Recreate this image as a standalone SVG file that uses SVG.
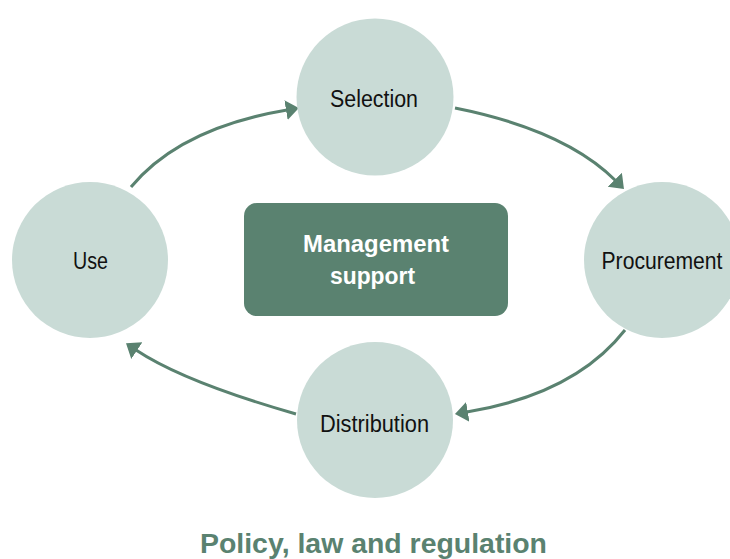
<svg xmlns="http://www.w3.org/2000/svg" width="730" height="559" viewBox="0 0 730 559">
<style>
.c{fill:#c9dbd6}
.lbl{font-family:"Liberation Sans",Arial,sans-serif;font-size:23px;fill:#111;text-anchor:middle}
.mg{font-family:"Liberation Sans",Arial,sans-serif;font-size:23px;font-weight:bold;fill:#fff;text-anchor:middle}
.ttl{font-family:"Liberation Sans",Arial,sans-serif;font-size:27px;font-weight:bold;fill:#5a8270;text-anchor:middle}
.a{fill:none;stroke:#5a8270;stroke-width:3}
</style>
<defs>
<marker id="ah" markerUnits="userSpaceOnUse" markerWidth="14" markerHeight="22" viewBox="0 -11 14 22" refX="1" refY="0" orient="auto">
<path d="M0,-10 L13,0 L0,10 z" fill="#5a8270"/>
</marker>
</defs>
<rect width="730" height="559" fill="#fff"/>
<g id="connectors">
<path class="a" d="M131,187 Q180,128 287,110" marker-end="url(#ah)"/>
<path class="a" d="M455,108 Q565,130 615.5,180.5" marker-end="url(#ah)"/>
<path class="a" d="M625,330 Q575,394 466.8,412" marker-end="url(#ah)"/>
<path class="a" d="M296,414 Q184,382 136,350" marker-end="url(#ah)"/>
</g>
<g id="selection"><circle class="c" cx="375" cy="97" r="78.5"/><text class="lbl" x="374" y="107" textLength="88" lengthAdjust="spacingAndGlyphs">Selection</text></g>
<g id="procurement"><circle class="c" cx="662" cy="260" r="78"/><text class="lbl" x="662" y="269" textLength="121" lengthAdjust="spacingAndGlyphs">Procurement</text></g>
<g id="distribution"><circle class="c" cx="375" cy="420" r="78"/><text class="lbl" x="374.5" y="432" textLength="109" lengthAdjust="spacingAndGlyphs">Distribution</text></g>
<g id="use"><circle class="c" cx="90" cy="260" r="78"/><text class="lbl" x="90.5" y="269" textLength="35" lengthAdjust="spacingAndGlyphs">Use</text></g>
<g id="management">
<rect x="244" y="203" width="264" height="113" rx="13" fill="#5a8270"/>
<text class="mg" x="376" y="252" textLength="146" lengthAdjust="spacingAndGlyphs">Management</text>
<text class="mg" x="372.5" y="284" textLength="85" lengthAdjust="spacingAndGlyphs">support</text>
</g>
<g id="title"><text class="ttl" x="373.5" y="553" textLength="347" lengthAdjust="spacingAndGlyphs">Policy, law and regulation</text></g>
</svg>
